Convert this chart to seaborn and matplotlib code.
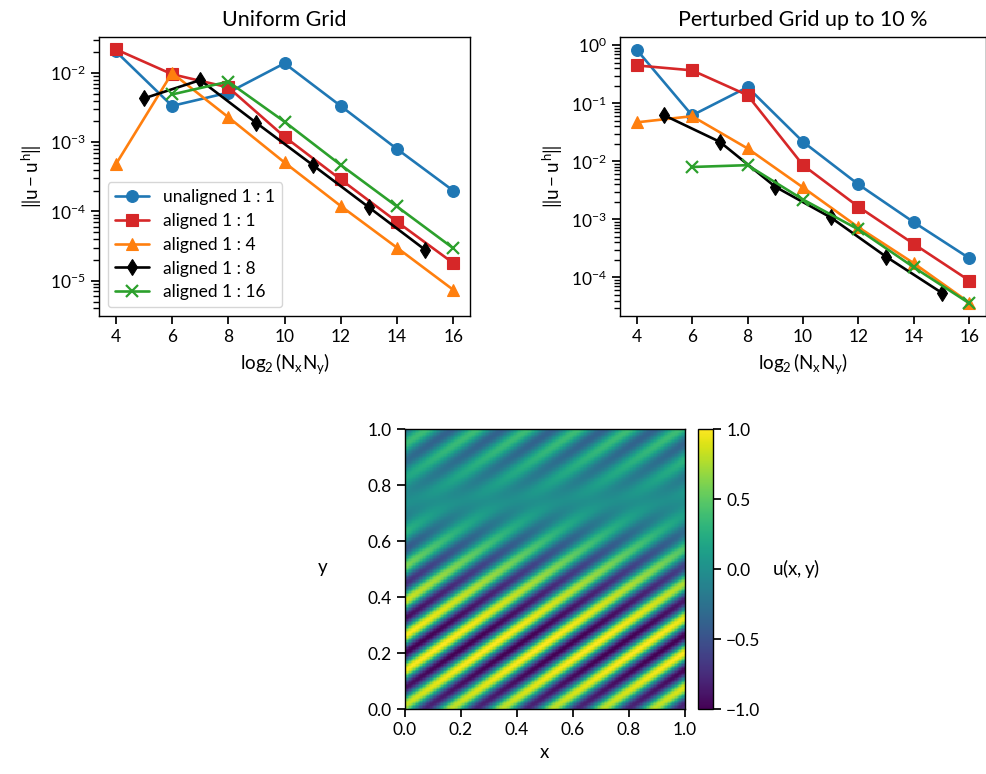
import numpy as np
import matplotlib
matplotlib.use("Agg")
import matplotlib.pyplot as plt
import seaborn as sns

# --- convergence data: error norm vs log2(Nx*Ny) ---
n_even = [4, 6, 8, 10, 12, 14, 16]
n_odd = [5, 7, 9, 11, 13, 15]
n_even6 = [6, 8, 10, 12, 14, 16]

# uniform grid
uni_unaligned_1_1 = [2.05e-2, 3.35e-3, 5.2e-3, 1.38e-2, 3.34e-3, 8.0e-4, 2.0e-4]
uni_aligned_1_1 = [2.2e-2, 9.6e-3, 6.2e-3, 1.2e-3, 2.9e-4, 7.1e-5, 1.8e-5]
uni_aligned_1_4 = [4.8e-4, 1.0e-2, 2.3e-3, 5.1e-4, 1.2e-4, 3.0e-5, 7.4e-6]
uni_aligned_1_8 = [4.3e-3, 7.9e-3, 1.9e-3, 4.7e-4, 1.15e-4, 2.8e-5]
uni_aligned_1_16 = [4.9e-3, 7.5e-3, 1.98e-3, 4.7e-4, 1.18e-4, 2.95e-5]

# perturbed grid (up to 10 %)
per_unaligned_1_1 = [0.84, 0.062, 0.19, 2.17e-2, 4.0e-3, 8.9e-4, 2.14e-4]
per_aligned_1_1 = [0.45, 0.37, 0.138, 8.6e-3, 1.65e-3, 3.76e-4, 8.8e-5]
per_aligned_1_4 = [0.047, 0.06, 1.67e-2, 3.55e-3, 7.3e-4, 1.75e-4, 3.67e-5]
per_aligned_1_8 = [0.062, 2.17e-2, 3.65e-3, 1.08e-3, 2.27e-4, 5.45e-5]
per_aligned_1_16 = [8.0e-3, 8.6e-3, 2.2e-3, 6.7e-4, 1.49e-4, 3.58e-5]

labels = ["unaligned 1 : 1", "aligned 1 : 1", "aligned 1 : 4",
          "aligned 1 : 8", "aligned 1 : 16"]
colors = ["#1f77b4", "#d62728", "#ff7f0e", "black", "#2ca02c"]
markers = ["o", "s", "^", "d", "x"]
xticks = [4, 6, 8, 10, 12, 14, 16]

sns.set_theme(style="ticks")
plt.rcParams.update({
    "font.family": ["Lato", "DejaVu Sans"],
    "mathtext.fontset": "custom",
    "mathtext.rm": "Lato",
    "mathtext.it": "Lato",
    "mathtext.bf": "Lato:bold",
    "font.size": 12,
    "axes.edgecolor": "black",
    "axes.linewidth": 1.0,
    "xtick.color": "black",
    "ytick.color": "black",
    "xtick.labelsize": 12.5,
    "ytick.labelsize": 12.5,
    "axes.labelsize": 13.5,
    "axes.titlesize": 15.5,
    "text.color": "black",
    "axes.labelcolor": "black",
})

W, H = 987, 774
fig = plt.figure(figsize=(W / 100, H / 100), dpi=100)


def box(x0, y0, x1, y1):
    return [x0 / W, 1 - y1 / H, (x1 - x0) / W, (y1 - y0) / H]


ax1 = fig.add_axes(box(99, 37, 470, 316))
ax2 = fig.add_axes(box(620, 37, 986, 316))
ax3 = fig.add_axes(box(405, 429, 685, 709))
cax = fig.add_axes(box(698, 429, 713, 709))


def draw_panel(ax, series, title):
    xs = [n_even, n_even, n_even, n_odd, n_even6]
    for x, y, lab, c, m in zip(xs, series, labels, colors, markers):
        sns.lineplot(x=x, y=y, ax=ax, color=c, marker=m, label=lab,
                     markersize=8.5, linewidth=1.9,
                     markeredgecolor=c, markeredgewidth=1.6 if m == "x" else 0.8)
    ax.set_yscale("log")
    ax.set_xticks(xticks)
    ax.set_xlabel(r"$\log_2(N_x N_y)$")
    ax.set_ylabel(r"$\|u - u^h\|$")
    ax.set_title(title, pad=8)
    ax.tick_params(which="both", direction="out")


draw_panel(ax1, [uni_unaligned_1_1, uni_aligned_1_1, uni_aligned_1_4,
                 uni_aligned_1_8, uni_aligned_1_16], "Uniform Grid")
ax1.set_ylim(10 ** -5.51, 10 ** -1.48)
ax1.legend(loc="lower left", fontsize=12.5, frameon=True, framealpha=0.8,
           edgecolor="0.8", handlelength=2.0, labelspacing=0.45)

draw_panel(ax2, [per_unaligned_1_1, per_aligned_1_1, per_aligned_1_4,
                 per_aligned_1_8, per_aligned_1_16], "Perturbed Grid up to 10 %")
ax2.get_legend().remove()

# --- solution field u(x, y) ---
nx = ny = 200
gx = np.linspace(0, 1, nx)
gy = np.linspace(0, 1, ny)
X, Y = np.meshgrid(gx, gy)
envelope = np.cos(np.pi * (Y - 0.22) / 1.05) * (1 - 0.45 * Y ** 3)
U = envelope * np.cos(2 * np.pi * (5.5 * X - 8.0 * Y) + 0.6)

im = ax3.imshow(U, extent=[0, 1, 0, 1], origin="lower", cmap="viridis",
                vmin=-1, vmax=1, aspect="auto", interpolation="nearest")
ax3.set_xticks(np.arange(0, 1.01, 0.2))
ax3.set_yticks(np.arange(0, 1.01, 0.2))
ax3.set_xlabel(r"$x$")
ax3.set_ylabel(r"$y$", rotation=0, labelpad=32, va="center")
ax3.tick_params(direction="out")

cb = fig.colorbar(im, cax=cax)
cb.set_ticks([-1.0, -0.5, 0.0, 0.5, 1.0])
cb.set_label(r"$u(x,y)$", rotation=0, va="center", ha="left", labelpad=8)
cb.outline.set_edgecolor("black")

fig.savefig("out.png", dpi=100)
